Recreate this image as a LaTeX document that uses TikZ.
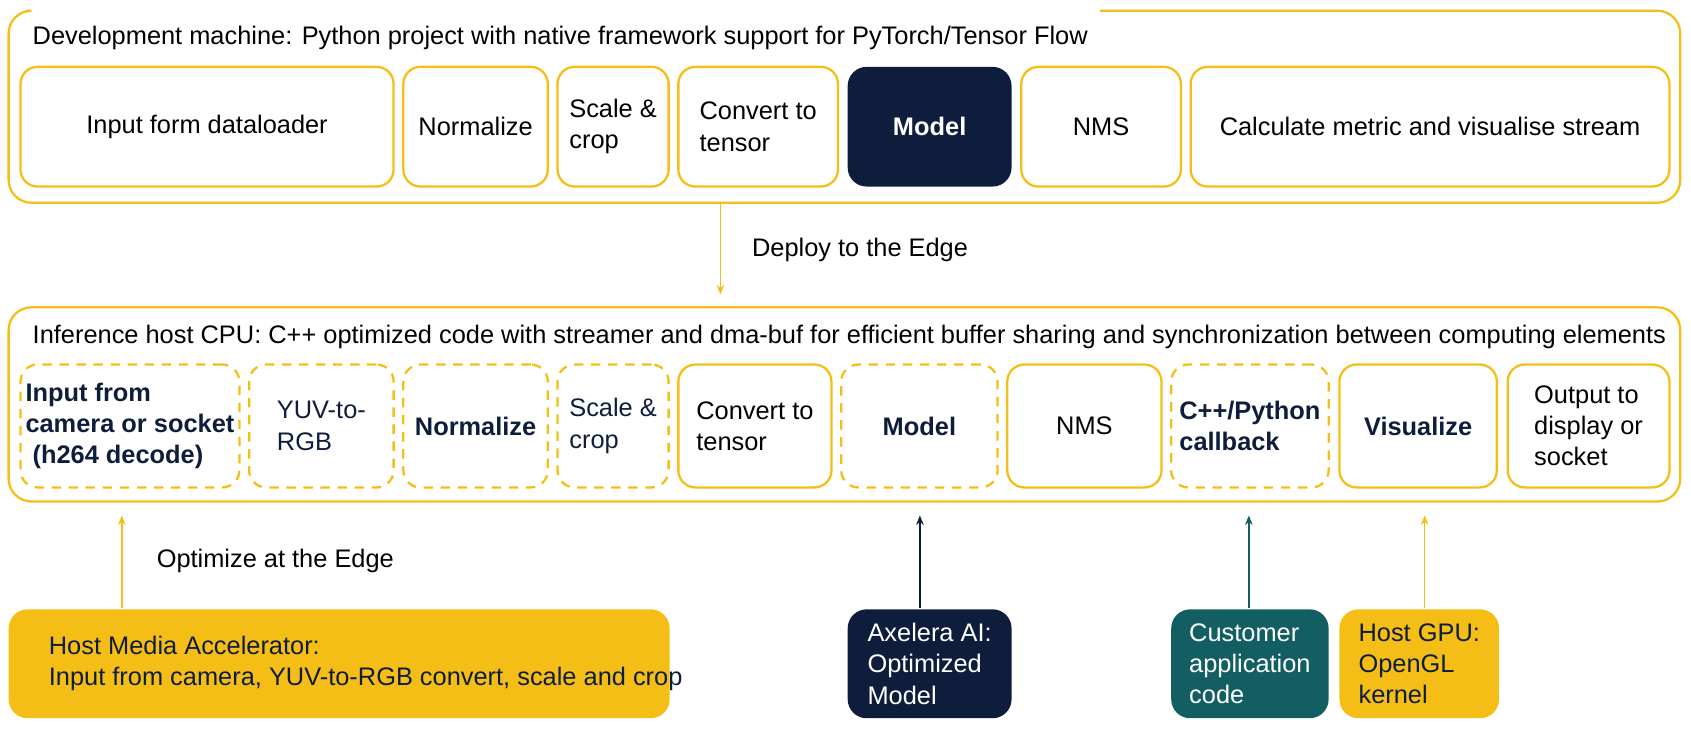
\documentclass[tikz,border=0pt]{standalone}
\usepackage{fontspec}
\setmainfont{Liberation Sans}
\usetikzlibrary{arrows.meta}
\definecolor{axyellow}{HTML}{F5BE16}
\definecolor{axnavy}{HTML}{0F1D3C}
\definecolor{axteal}{HTML}{135E62}
\tikzset{
  box/.style={draw=axyellow, line width=1.2pt, rounded corners=9pt, inner sep=0pt, align=left, font=\fontsize{13.4}{16.5}\selectfont},
  dbox/.style={box, dashed, dash pattern=on 5pt off 4pt, text=axnavy},
  fbox/.style={box, draw=none, rounded corners=10pt},
  lbl/.style={anchor=west, inner sep=0pt, font=\fontsize{13.4}{16.5}\selectfont},
  up/.style={-{Stealth[length=5pt,width=4pt]}, line width=0.8pt},
}
\begin{document}
\begin{tikzpicture}[x=0.02cm, y=-0.02cm]
    \useasboundingbox (0,0) rectangle (1568,678);
    % Development machine frame
    \draw[axyellow, line width=1.2pt, rounded corners=12pt]
        (25,10) -- (8,10) -- (8,188) -- (1558,188) -- (1558,10) -- (1020,10);
    \node[lbl] (devtitle) at (30,35) {Development machine: Python project with native framework support for PyTorch/Tensor Flow};
    \node[box, minimum width=6.92cm, minimum height=2.22cm] (dload) at (192,117.5) {Input form dataloader};
    \node[box, minimum width=2.68cm, minimum height=2.22cm] (dnorm) at (441,117.5) {Normalize};
    \node[box, minimum width=2.06cm, minimum height=2.22cm] (dscale) at (568.5,117.5) {Scale \&\\crop};
    \node[box, minimum width=2.96cm, minimum height=2.22cm] (dconv) at (703,117.5) {Convert to\\tensor};
    \node[fbox, fill=axnavy, text=white, minimum width=3.04cm, minimum height=2.22cm, font=\fontsize{13.4}{16.5}\selectfont\bfseries] (dmodel) at (862,117.5) {Model};
    \node[box, minimum width=2.96cm, minimum height=2.22cm] (dnms) at (1021,117.5) {NMS};
    \node[box, minimum width=8.88cm, minimum height=2.22cm] (dcalc) at (1326,117.5) {Calculate metric and visualise stream};

    % Deploy arrow
    \coordinate (deptop) at (668,188);
    \coordinate (depbot) at (668,273);
    \draw[up, axyellow] (deptop) -- (depbot);
    \node[lbl] (deplbl) at (697,232) {Deploy to the Edge};

    % Inference host frame
    \draw[axyellow, line width=1.2pt, rounded corners=12pt] (8,285) rectangle (1558,465);
    \node[lbl] (hosttitle) at (30,312) {Inference host CPU: C++ optimized code with streamer and dma-buf for efficient buffer sharing and synchronization between computing elements};
    \node[dbox, minimum width=4.06cm, minimum height=2.28cm, font=\fontsize{13.4}{16.5}\selectfont\bfseries] (hin) at (120.5,395) {Input from\\camera or socket\\\ (h264 decode)};
    \node[dbox, minimum width=2.68cm, minimum height=2.28cm] (hyuv) at (298,395) {YUV-to-\\RGB};
    \node[dbox, minimum width=2.68cm, minimum height=2.28cm, font=\fontsize{13.4}{16.5}\selectfont\bfseries] (hnorm) at (441,395) {Normalize};
    \node[dbox, minimum width=2.06cm, minimum height=2.28cm] (hscale) at (568.5,395) {Scale \&\\crop};
    \node[box, minimum width=2.84cm, minimum height=2.28cm] (hconv) at (700,395) {Convert to\\tensor};
    \node[dbox, minimum width=2.9cm, minimum height=2.28cm, font=\fontsize{13.4}{16.5}\selectfont\bfseries] (hmodel) at (852.5,395) {Model};
    \node[box, minimum width=2.86cm, minimum height=2.28cm] (hnms) at (1005.5,395) {NMS};
    \node[dbox, minimum width=2.92cm, minimum height=2.28cm, font=\fontsize{13.4}{16.5}\selectfont\bfseries] (hcb) at (1159,395) {C++/Python\\callback};
    \node[box, text=axnavy, minimum width=2.92cm, minimum height=2.28cm, font=\fontsize{13.4}{16.5}\selectfont\bfseries] (hvis) at (1315,395) {Visualize};
    \node[box, minimum width=3.0cm, minimum height=2.28cm] (hout) at (1473,395) {Output to\\display or\\socket};

    % Accelerators
    \node[fbox, fill=axyellow, minimum width=12.26cm, minimum height=2.02cm] (media) at (314.5,615.5) {};
    \node[lbl, text=axnavy, align=left] (medialbl) at (45,615.5) {Host Media Accelerator:\\Input from camera, YUV-to-RGB convert, scale and crop};
    \node[fbox, fill=axnavy, text=white, minimum width=3.04cm, minimum height=2.02cm] (axel) at (862,615.5) {Axelera AI:\\Optimized\\Model};
    \node[fbox, fill=axteal, text=white, minimum width=2.92cm, minimum height=2.02cm] (cust) at (1159,615.5) {Customer\\application\\code};
    \node[fbox, fill=axyellow, text=axnavy, minimum width=2.96cm, minimum height=2.02cm] (gpu) at (1316,615.5) {Host GPU:\\OpenGL\\kernel};

    % Upward arrows
    \coordinate (optop) at (113,478);
    \draw[up, axyellow] (media.north -| optop) -- (optop);
    \node[lbl] (optlbl) at (145,520) {Optimize at the Edge};
    \coordinate (axtop) at (853,478);
    \draw[up, axnavy] (axel.north -| axtop) -- (axtop);
    \coordinate (cutop) at (1158,478);
    \draw[up, axteal] (cust.north -| cutop) -- (cutop);
    \coordinate (gptop) at (1321,478);
    \draw[up, axyellow] (gpu.north -| gptop) -- (gptop);
\end{tikzpicture}
\end{document}
